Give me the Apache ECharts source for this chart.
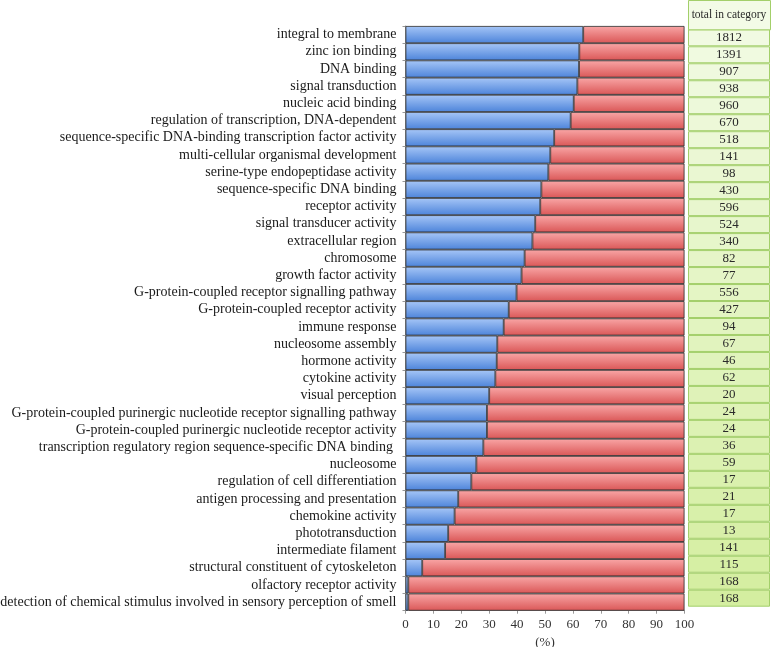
<!DOCTYPE html>
<html>
<head>
<meta charset="utf-8">
<script src="https://cdn.jsdelivr.net/npm/echarts@6/dist/echarts.min.js"></script>
<style>
html,body{margin:0;padding:0;background:#fff;}
#chart{width:774px;height:647px;}
</style>
</head>
<body>
<div id="chart"></div>
<script>
const categories = [
  "integral to membrane",
  "zinc ion binding",
  "DNA binding",
  "signal transduction",
  "nucleic acid binding",
  "regulation of transcription, DNA-dependent",
  "sequence-specific DNA-binding transcription factor activity",
  "multi-cellular organismal development",
  "serine-type endopeptidase activity",
  "sequence-specific DNA binding",
  "receptor activity",
  "signal transducer activity",
  "extracellular region",
  "chromosome",
  "growth factor activity",
  "G-protein-coupled receptor signalling pathway",
  "G-protein-coupled receptor activity",
  "immune response",
  "nucleosome assembly",
  "hormone activity",
  "cytokine activity",
  "visual perception",
  "G-protein-coupled purinergic nucleotide receptor signalling pathway",
  "G-protein-coupled purinergic nucleotide receptor activity",
  "transcription regulatory region sequence-specific DNA binding ",
  "nucleosome",
  "regulation of cell differentiation",
  "antigen processing and presentation",
  "chemokine activity",
  "phototransduction",
  "intermediate filament",
  "structural constituent of cytoskeleton",
  "olfactory receptor activity",
  "detection of chemical stimulus involved in sensory perception of smell"
];
const bluePct = [63.7, 62.3, 62.2, 61.6, 60.3, 59.2, 53.3, 51.9, 51.2, 48.7, 48.3, 46.5,
  45.5, 42.7, 41.6, 39.8, 37.0, 35.2, 32.9, 32.7, 32.2, 30.0, 29.2, 29.2, 27.9, 25.4,
  23.6, 18.9, 17.6, 15.3, 14.2, 6.0, 1.0, 1.0];
const redPct = [36.3, 37.7, 37.8, 38.4, 39.7, 40.8, 46.7, 48.1, 48.8, 51.3, 51.7, 53.5,
  54.5, 57.3, 58.4, 60.2, 63.0, 64.8, 67.1, 67.3, 67.8, 70.0, 70.8, 70.8, 72.1, 74.6,
  76.4, 81.1, 82.4, 84.7, 85.8, 94.0, 99.0, 99.0];
const totals = [1812, 1391, 907, 938, 960, 670, 518, 141, 98, 430, 596, 524, 340, 82, 77,
  556, 427, 94, 67, 46, 62, 20, 24, 24, 36, 59, 17, 21, 17, 13, 141, 115, 168, 168];
const xTicks = [0, 10, 20, 30, 40, 50, 60, 70, 80, 90, 100];
const tableHeader = "total in category";

const SERIF = "'Liberation Serif', 'Times New Roman', serif";
const chart = echarts.init(document.getElementById('chart'));

function grad(top, bottom) {
  return new echarts.graphic.LinearGradient(0, 0, 0, 1, [
    {offset: 0, color: top}, {offset: 1, color: bottom}
  ]);
}
function mix(a, b, t) {
  const pa = a.match(/\w\w/g).map(h => parseInt(h, 16));
  const pb = b.match(/\w\w/g).map(h => parseInt(h, 16));
  return 'rgb(' + pa.map((v, i) => Math.round(v + (pb[i] - v) * t)).join(',') + ')';
}
const n = categories.length;
const cellData = totals.map((t, i) => ({
  value: 1,
  total: t,
  itemStyle: {color: mix('f1fae2', 'd4eea0', i / (n - 1))}
}));

chart.setOption({
  animation: false,
  backgroundColor: '#ffffff',
  grid: [
    {left: 405.5, right: 89.5, top: 26, bottom: 36.3, containLabel: false, outerBoundsMode: 'none'},
    {left: 688, width: 82, top: 29.3, bottom: 40.3, containLabel: false, outerBoundsMode: 'none'}
  ],
  xAxis: [
    {
      gridIndex: 0, type: 'value', min: 0, max: 100, interval: 10,
      name: '(%)', nameLocation: 'middle', nameGap: 21,
      nameTextStyle: {fontFamily: SERIF, fontSize: 13, color: '#333'},
      axisLine: {show: true, lineStyle: {color: '#999', width: 1}},
      axisTick: {show: true, length: 3, lineStyle: {color: '#999'}},
      axisLabel: {fontFamily: SERIF, fontSize: 13, color: '#333', margin: 7, hideOverlap: false,
        formatter: v => xTicks.indexOf(v) >= 0 ? String(v) : ''},
      splitLine: {show: false}
    },
    {gridIndex: 1, type: 'value', min: 0, max: 1, show: false}
  ],
  yAxis: [
    {
      gridIndex: 0, type: 'category', data: categories, inverse: true,
      axisLine: {show: true, lineStyle: {color: '#999', width: 1}},
      axisTick: {show: true, length: 3, alignWithLabel: false, lineStyle: {color: '#999'}},
      axisLabel: {fontFamily: SERIF, fontSize: 14, color: '#1a1a1a', margin: 9, interval: 0},
      splitLine: {show: false}
    },
    {gridIndex: 1, type: 'category', data: categories, inverse: true, show: false}
  ],
  series: [
    {
      type: 'bar', stack: 'pct', xAxisIndex: 0, yAxisIndex: 0,
      data: bluePct, barCategoryGap: 0, barWidth: '100%',
      itemStyle: {color: grad('#a6c6f7', '#4d84da'), borderColor: '#2a2a2a', borderWidth: 0.8}
    },
    {
      type: 'bar', stack: 'pct', xAxisIndex: 0, yAxisIndex: 0,
      data: redPct, barCategoryGap: 0, barWidth: '100%',
      itemStyle: {color: grad('#f9a6a6', '#da5757'), borderColor: '#2a2a2a', borderWidth: 0.8}
    },
    {
      type: 'bar', xAxisIndex: 1, yAxisIndex: 1, data: cellData,
      barCategoryGap: 0, barWidth: '100%', silent: true,
      itemStyle: {borderColor: '#a3cf6a', borderWidth: 1},
      label: {show: true, position: 'inside', formatter: p => String(p.data.total),
        fontFamily: SERIF, fontSize: 13, color: '#2a2a2a'}
    }
  ],
  graphic: [
    {
      type: 'rect', left: 688, top: 0,
      shape: {x: 0, y: 0, width: 82, height: 29.3},
      style: {fill: '#f3fbe6', stroke: '#a3cf6a', lineWidth: 1},
      z: 10
    },
    {
      type: 'text', x: 729, y: 14.5,
      style: {text: tableHeader, fontFamily: SERIF, fontSize: 11.5, fill: '#2a2a2a',
        align: 'center', verticalAlign: 'middle'},
      z: 11
    }
  ]
});
</script>
</body>
</html>
